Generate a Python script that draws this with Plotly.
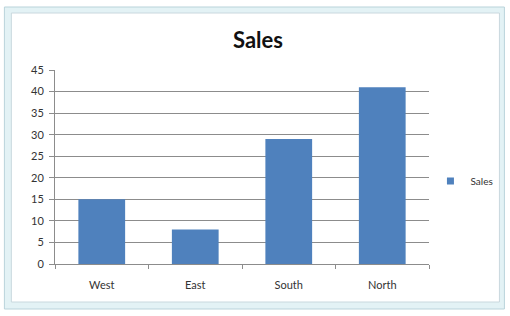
import plotly.graph_objects as go

categories = ["West", "East", "South", "North"]
sales = [15, 8, 29, 41]
series_name = "Sales"
y_ticks = [0, 5, 10, 15, 20, 25, 30, 35, 40, 45]

W, H = 510, 316
L, R, T, B = 55, 78, 70, 52
pw, ph = W - L - R, H - T - B

def px(x):
    return (x - L) / pw

def py(y):
    return (H - B - y) / ph

BAR_COLOR = "#4f81bd"

fig = go.Figure()
fig.add_trace(go.Bar(x=categories, y=sales, name=series_name,
                     marker=dict(color=BAR_COLOR, line=dict(width=0)),
                     showlegend=False))
# legend entry with a small square swatch
fig.add_trace(go.Scatter(x=[None], y=[None], mode="markers", name=series_name,
                         marker=dict(symbol="square", size=7, color=BAR_COLOR),
                         showlegend=True))

shapes = [
    dict(type="rect", xref="paper", yref="paper", layer="below",
         x0=px(4), x1=px(508), y0=py(309), y1=py(7),
         fillcolor="#e3f2f5", line=dict(color="#b9d3da", width=1)),
    dict(type="rect", xref="paper", yref="paper", layer="below",
         x0=px(11), x1=px(503), y0=py(302), y1=py(13),
         fillcolor="#ffffff", line=dict(color="#c9d8de", width=1)),
]

fig.update_layout(
    width=W, height=H,
    margin=dict(l=L, r=R, t=T, b=B, pad=0),
    paper_bgcolor="#ffffff", plot_bgcolor="rgba(0,0,0,0)",
    font=dict(family="Lato, Liberation Sans, sans-serif", size=11, color="#333333"),
    title=dict(text="<b>Sales</b>", xref="container", x=258 / W, xanchor="center",
               yref="container", y=1 - 40 / H, yanchor="middle",
               font=dict(size=22, color="#111111")),
    bargap=0.5,
    shapes=shapes,
    xaxis=dict(type="category", showgrid=False, showline=True,
               linecolor="#8c8c8c", linewidth=1, ticks="outside",
               tickson="boundaries", ticklen=4, tickcolor="#8c8c8c",
               ticklabelstandoff=11,
               tickfont=dict(size=11, color="#333333")),
    yaxis=dict(range=[0, 45], tickvals=y_ticks, showgrid=True,
               gridcolor="#8c8c8c", gridwidth=1, showline=True,
               linecolor="#8c8c8c", ticks="outside", ticklen=5,
               tickcolor="#8c8c8c", zeroline=False, ticklabelstandoff=3,
               tickfont=dict(size=11, color="#333333")),
    legend=dict(x=px(502), y=py(181), xanchor="right", yanchor="middle",
                bgcolor="rgba(0,0,0,0)", font=dict(size=10, color="#333333"),
                itemwidth=30, tracegroupgap=0),
)

fig.write_html("out.html", config={"displayModeBar": False},
               post_script="document.body.style.margin='0';document.body.style.padding='0';")
